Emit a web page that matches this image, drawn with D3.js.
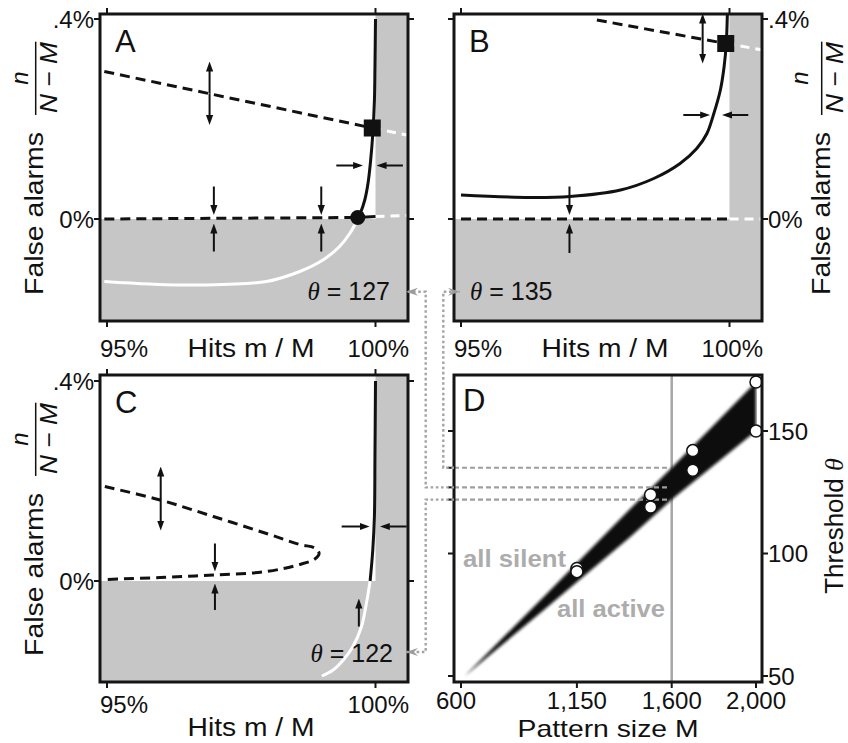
<!DOCTYPE html>
<html>
<head>
<meta charset="utf-8">
<script src="https://cdn.jsdelivr.net/npm/d3@7"></script>
<style>
  body { margin: 0; background: #fff; }
  text { font-family: "Liberation Sans", Arial, Helvetica, sans-serif; fill: #111; }
</style>
</head>
<body>
<svg id="fig" width="848" height="743"></svg>
<script>
// ---------------- data ----------------
// hits m/M in %, false alarms n/(N-M) in %
const hitTicks = [95, 100];
const hitTickLabels = ["95%", "100%"];
const faTicks = [0, 0.4];
const faTickLabels = ["0%", ".4%"];

// Panel A, theta = 127
const thetaA = 127;
const curveA_black = [[100.0, 0.40], [99.99, 0.305], [99.98, 0.238], [99.95, 0.171], [99.91, 0.118],
  [99.86, 0.071], [99.80, 0.038], [99.72, 0.012], [99.67, 0.0]];
const curveA_white = [[99.67, 0.0], [99.52, -0.029], [99.33, -0.055], [99.02, -0.082], [98.59, -0.105],
  [97.97, -0.125], [96.73, -0.132], [95.8, -0.130], [94.95, -0.125]];
const dashTopA = [[94.95, 0.295], [99.94, 0.182]];
const dashTopA_gray = [[99.94, 0.182], [100.58, 0.168]];
const dashZeroA = [[94.95, 0.0], [99.67, 0.003]];
const solidZeroA = [[99.67, 0.003], [100.0, 0.005]];
const dashZeroA_gray = [[100.0, 0.005], [100.58, 0.007]];
const squareA = [99.94, 0.182];
const dotA = [99.67, 0.003];
const arrowsA = [
  [96.91, 0.251, 96.91, 0.315], [96.91, 0.251, 96.91, 0.188],
  [99.27, 0.107, 99.77, 0.107], [100.51, 0.107, 100.02, 0.107],
  [96.99, 0.065, 96.99, 0.008], [96.99, -0.065, 96.99, -0.009],
  [98.99, 0.065, 98.99, 0.008], [98.99, -0.065, 98.99, -0.009]
];

// Panel B, theta = 135
const thetaB = 135;
const curveB_black = [[95.0, 0.048], [96.29, 0.043], [97.03, 0.045], [97.97, 0.058], [98.59, 0.081],
  [99.08, 0.111], [99.39, 0.141], [99.58, 0.171], [99.70, 0.208], [99.83, 0.258], [99.90, 0.305],
  [99.94, 0.351], [99.96, 0.41]];
const dashTopB = [[97.53, 0.398], [99.93, 0.351]];
const dashTopB_gray = [[99.93, 0.351], [100.62, 0.338]];
const dashZeroB = [[95.0, 0.0], [100.0, 0.0]];
const dashZeroB_gray = [[100.0, 0.0], [100.62, 0.0]];
const squareB = [99.93, 0.351];
const arrowsB = [
  [99.5, 0.36, 99.5, 0.411], [99.5, 0.36, 99.5, 0.311],
  [99.14, 0.208, 99.64, 0.208], [100.35, 0.208, 99.86, 0.208],
  [97.02, 0.065, 97.02, 0.008], [97.02, -0.068, 97.02, -0.009]
];

// Panel C, theta = 122
const thetaC = 122;
const dashC = [[94.96, 0.189], [95.99, 0.162], [96.98, 0.129], [97.97, 0.095], [98.59, 0.073],
  [98.87, 0.066], [98.95, 0.055], [98.87, 0.044], [98.59, 0.033], [97.97, 0.019], [96.98, 0.012],
  [95.99, 0.007], [94.96, 0.003]];
const curveC_black = [[100.0, 0.40], [99.99, 0.25], [99.98, 0.13], [99.95, 0.063], [99.90, 0.0]];
const curveC_white = [[99.90, 0.0], [99.83, -0.045], [99.74, -0.091], [99.58, -0.131], [99.40, -0.158],
  [99.21, -0.178], [99.0, -0.19]];
const arrowsC = [
  [96.0, 0.163, 96.0, 0.229], [96.0, 0.163, 96.0, 0.101],
  [99.37, 0.109, 99.89, 0.109], [100.58, 0.109, 100.08, 0.109],
  [97.01, 0.075, 97.01, 0.019], [97.01, -0.058, 97.01, -0.005],
  [99.69, -0.091, 99.69, -0.035]
];

// Panel D: threshold vs pattern size
const sizeTicks = [600, 1150, 1600, 2000];
const sizeTickLabels = ["600", "1,150", "1,600", "2,000"];
const thetaTicks = [50, 100, 150];
const wedgeM = [618, 1000, 1400, 1600, 1800, 2000];
const wedgeUpper = [50, 83, 118, 135, 152.5, 170];
const wedgeLower = [50, 77.5, 106.5, 122, 136, 150];
const simM = [1150, 1150, 1500, 1500, 1700, 1700, 2000, 2000];
const simTheta = [93.9, 92.6, 124, 119, 142, 134, 170, 150];
const refM = 1600;

// ---------------- drawing ----------------
const GRAY = "#c6c6c6";
const svg = d3.select("#fig");
const defs = svg.append("defs");

defs.append("marker")
    .attr("id", "head")
    .attr("viewBox", "0 -5 10 10")
    .attr("refX", 4).attr("refY", 0)
    .attr("markerWidth", 10).attr("markerHeight", 10)
    .attr("orient", "auto")
    .attr("markerUnits", "userSpaceOnUse")
  .append("path").attr("d", "M0,-3.6L10,0L0,3.6Z").attr("fill", "#111");

defs.append("marker")
    .attr("id", "grayhead")
    .attr("viewBox", "0 -5 12 10")
    .attr("refX", 12).attr("refY", 0)
    .attr("markerWidth", 12).attr("markerHeight", 10)
    .attr("orient", "auto")
    .attr("markerUnits", "userSpaceOnUse")
  .append("path").attr("d", "M0,-4L12,0L0,4L4,0Z").attr("fill", "#9c9c9c");

defs.append("filter").attr("id", "soft").attr("x", "-10%").attr("y", "-10%").attr("width", "120%").attr("height", "120%")
  .append("feGaussianBlur").attr("stdDeviation", 1.8);

// layout of the three hits panels
const hitPanels = [
  { key: "A", left: 100, top: 14, y0: 205, y4: 5, right: false, tickBase: 357, titleBase: 357,
    theta: thetaA, thetaX: 390, thetaY: 300, thetaAnchor: "end",
    black: [curveA_black], white: [curveA_white],
    dashed: [dashTopA, dashZeroA], solid: [solidZeroA], whiteDashed: [dashTopA_gray, dashZeroA_gray],
    squares: [squareA], dots: [dotA], arrows: arrowsA },
  { key: "B", left: 454, top: 14, y0: 205, y4: 5, right: true, tickBase: 357, titleBase: 357,
    theta: thetaB, thetaX: 470, thetaY: 300, thetaAnchor: "start",
    black: [curveB_black], white: [],
    dashed: [dashTopB, dashZeroB], solid: [], whiteDashed: [dashTopB_gray, dashZeroB_gray],
    squares: [squareB], dots: [], arrows: arrowsB },
  { key: "C", left: 100, top: 375, y0: 206, y4: 6, right: false, tickBase: 713, titleBase: 736,
    theta: thetaC, thetaX: 393, thetaY: 662, thetaAnchor: "end",
    black: [curveC_black], white: [curveC_white],
    dashed: [dashC], solid: [], whiteDashed: [],
    squares: [], dots: [], arrows: arrowsC }
];
const BOXW = 308, BOXH = 307;

function drawArrows(g, list, x, y) {
  list.forEach(a => {
    const x1 = x(a[0]), y1 = y(a[1]), x2 = x(a[2]), y2 = y(a[3]);
    const len = Math.hypot(x2 - x1, y2 - y1) || 1;
    const ux = (x2 - x1) / len, uy = (y2 - y1) / len;
    g.append("line")
      .attr("x1", x1).attr("y1", y1)
      .attr("x2", x2 - ux * 6).attr("y2", y2 - uy * 6)
      .attr("stroke", "#111").attr("stroke-width", 2)
      .attr("marker-end", "url(#head)");
  });
}

hitPanels.forEach(p => {
  const g = svg.append("g").attr("class", "panel" + p.key);
  const x = d3.scaleLinear().domain([95, 100]).range([p.left + 7, p.left + 275.5]);
  const y = d3.scaleLinear().domain([0, 0.4]).range([p.top + p.y0, p.top + p.y4]);
  const line = d3.line().x(d => x(d[0])).y(d => y(d[1])).curve(d3.curveCatmullRom.alpha(0.5));

  defs.append("clipPath").attr("id", "clip" + p.key)
    .append("rect").attr("x", p.left).attr("y", p.top).attr("width", BOXW).attr("height", BOXH);
  const inner = g.append("g").attr("clip-path", `url(#clip${p.key})`);

  // shaded (forbidden) regions
  inner.append("rect").attr("x", x(100)).attr("y", p.top)
    .attr("width", p.left + BOXW - x(100)).attr("height", BOXH).attr("fill", GRAY);
  inner.append("rect").attr("x", p.left).attr("y", y(0))
    .attr("width", BOXW).attr("height", p.top + BOXH - y(0)).attr("fill", GRAY);

  p.whiteDashed.forEach(s => inner.append("path").datum(s).attr("d", line)
    .attr("fill", "none").attr("stroke", "#fff").attr("stroke-width", 3).attr("stroke-dasharray", "9,6"));
  p.dashed.forEach(s => inner.append("path").datum(s).attr("d", line)
    .attr("fill", "none").attr("stroke", "#111").attr("stroke-width", 3).attr("stroke-dasharray", "10,6"));
  p.solid.forEach(s => inner.append("path").datum(s).attr("d", line)
    .attr("fill", "none").attr("stroke", "#111").attr("stroke-width", 3));
  p.white.forEach(s => inner.append("path").datum(s).attr("d", line)
    .attr("fill", "none").attr("stroke", "#fff").attr("stroke-width", 3));
  p.black.forEach(s => inner.append("path").datum(s).attr("d", line)
    .attr("fill", "none").attr("stroke", "#111").attr("stroke-width", 3));

  drawArrows(inner, p.arrows, x, y);

  inner.selectAll("rect.sq").data(p.squares).join("rect").attr("class", "sq")
    .attr("x", d => x(d[0]) - 8.5).attr("y", d => y(d[1]) - 8.5)
    .attr("width", 17).attr("height", 17).attr("fill", "#111");
  inner.selectAll("circle.dot").data(p.dots).join("circle").attr("class", "dot")
    .attr("cx", d => x(d[0])).attr("cy", d => y(d[1])).attr("r", 7.5).attr("fill", "#111");

  // theta label
  const t = g.append("text").attr("x", p.thetaX).attr("y", p.thetaY)
    .attr("text-anchor", p.thetaAnchor).attr("font-size", 25);
  t.append("tspan").attr("font-family", "'Liberation Serif', 'Times New Roman', serif")
    .attr("font-style", "italic").text("θ");
  t.append("tspan").text(" = " + p.theta);

  // frame
  g.append("rect").attr("x", p.left).attr("y", p.top).attr("width", BOXW).attr("height", BOXH)
    .attr("fill", "none").attr("stroke", "#151515").attr("stroke-width", 3);

  // ticks on all four sides
  hitTicks.forEach(v => {
    g.append("line").attr("x1", x(v)).attr("x2", x(v)).attr("y1", p.top + BOXH).attr("y2", p.top + BOXH + 6)
      .attr("stroke", "#151515").attr("stroke-width", 2);
    g.append("line").attr("x1", x(v)).attr("x2", x(v)).attr("y1", p.top).attr("y2", p.top - 6)
      .attr("stroke", "#151515").attr("stroke-width", 2);
  });
  faTicks.forEach(v => {
    g.append("line").attr("x1", p.left).attr("x2", p.left - 6).attr("y1", y(v)).attr("y2", y(v))
      .attr("stroke", "#151515").attr("stroke-width", 2);
    g.append("line").attr("x1", p.left + BOXW).attr("x2", p.left + BOXW + 6).attr("y1", y(v)).attr("y2", y(v))
      .attr("stroke", "#151515").attr("stroke-width", 2);
  });

  // tick labels
  g.append("text").attr("x", p.left).attr("y", p.tickBase).attr("font-size", 24).text(hitTickLabels[0]);
  g.append("text").attr("x", p.left + BOXW + 1).attr("y", p.tickBase).attr("text-anchor", "end")
    .attr("font-size", 24).text(hitTickLabels[1]);
  faTicks.forEach((v, i) => {
    g.append("text")
      .attr("x", p.right ? p.left + BOXW + 6 : p.left - 6)
      .attr("y", y(v)).attr("dy", "0.36em")
      .attr("text-anchor", p.right ? "start" : "end")
      .attr("font-size", 24).text(faTickLabels[i]);
  });

  // x title
  g.append("text").attr("x", p.left + BOXW / 2 - 3).attr("y", p.titleBase)
    .attr("text-anchor", "middle").attr("font-size", 26).attr("textLength", 127)
    .attr("lengthAdjust", "spacingAndGlyphs").text("Hits m / M");

  // y title with fraction n / (N - M)
  const yl = p.right
    ? { fa: 830, n: 808.3, bar: 821.7, nm: 843.3 }
    : { fa: 43, n: 28.3, bar: 35.7, nm: 56.7 };
  g.append("text").attr("transform", `translate(${yl.fa},${p.top + 199.5}) rotate(-90)`)
    .attr("text-anchor", "middle").attr("font-size", 26).attr("textLength", 163)
    .attr("lengthAdjust", "spacingAndGlyphs").text("False alarms");
  g.append("text").attr("transform", `translate(${yl.n},${p.top + 64}) rotate(-90)`)
    .attr("text-anchor", "middle").attr("font-size", 24).attr("font-style", "italic").text("n");
  g.append("line").attr("x1", yl.bar).attr("x2", yl.bar).attr("y1", p.top + 27.7).attr("y2", p.top + 101)
    .attr("stroke", "#111").attr("stroke-width", 1.5);
  g.append("text").attr("transform", `translate(${yl.nm},${p.top + 63.5}) rotate(-90)`)
    .attr("text-anchor", "middle").attr("font-size", 24).attr("font-style", "italic")
    .attr("textLength", 71).attr("lengthAdjust", "spacingAndGlyphs").text("N − M");

  // panel letter
  g.append("text").attr("x", p.left + 15).attr("y", p.top + 38).attr("font-size", 31).text(p.key);
});

// ---------------- panel D ----------------
const D = { left: 454, top: 375 };
const gD = svg.append("g").attr("class", "panelD");
const xD = d3.scaleLinear().domain([600, 2000]).range([D.left + 7, D.left + 302]);
const yD = d3.scaleLinear().domain([50, 150]).range([D.top + 301, D.top + 56]);

defs.append("clipPath").attr("id", "clipD")
  .append("rect").attr("x", D.left).attr("y", D.top).attr("width", BOXW).attr("height", BOXH);
const innerD = gD.append("g").attr("clip-path", "url(#clipD)");

innerD.append("line").attr("x1", xD(refM)).attr("x2", xD(refM)).attr("y1", D.top).attr("y2", D.top + BOXH)
  .attr("stroke", "#a6a6a6").attr("stroke-width", 2.5);

const wedge = wedgeM.map((m, i) => ({ m, lo: wedgeLower[i], hi: wedgeUpper[i] }));
innerD.append("path").datum(wedge)
  .attr("d", d3.area().x(d => xD(d.m)).y0(d => yD(d.lo)).y1(d => yD(d.hi)))
  .attr("fill", "#0e0e0e").attr("filter", "url(#soft)");

// white gap between the wedge end and the frame
innerD.append("line").attr("x1", xD(2000) + 3).attr("x2", xD(2000) + 3)
  .attr("y1", yD(simTheta[6])).attr("y2", yD(simTheta[7]))
  .attr("stroke", "#fff").attr("stroke-width", 4);

// dashed theta lines from panels A, B, C
const thetaMarks = [thetaB, thetaA, thetaC];
innerD.selectAll("line.tm").data(thetaMarks).join("line").attr("class", "tm")
  .attr("x1", D.left).attr("x2", xD(refM) - 2)
  .attr("y1", d => yD(d)).attr("y2", d => yD(d))
  .attr("stroke", "#9e9e9e").attr("stroke-width", 2.2).attr("stroke-dasharray", "5,3");

innerD.selectAll("text.reg").data([["all silent", 463, 567, 103], ["all active", 557, 617, 108]])
  .join("text").attr("class", "reg")
  .attr("x", d => d[1]).attr("y", d => d[2]).attr("font-size", 24).attr("font-weight", "bold")
  .attr("textLength", d => d[3]).attr("lengthAdjust", "spacingAndGlyphs")
  .style("fill", "#acacac").text(d => d[0]);

innerD.selectAll("circle.sim").data(simM.map((m, i) => [m, simTheta[i]])).join("circle").attr("class", "sim")
  .attr("cx", d => xD(d[0])).attr("cy", d => yD(d[1])).attr("r", 6)
  .attr("fill", "#fff").attr("stroke", "#111").attr("stroke-width", 1.5);

gD.append("rect").attr("x", D.left).attr("y", D.top).attr("width", BOXW).attr("height", BOXH)
  .attr("fill", "none").attr("stroke", "#151515").attr("stroke-width", 3);

sizeTicks.forEach((v, i) => {
  gD.append("line").attr("x1", xD(v)).attr("x2", xD(v)).attr("y1", D.top + BOXH).attr("y2", D.top + BOXH + 6)
    .attr("stroke", "#151515").attr("stroke-width", 2);
  gD.append("text").attr("x", xD(v) - (i === 0 ? 5 : 0)).attr("y", 709).attr("text-anchor", "middle")
    .attr("font-size", 24).text(sizeTickLabels[i]);
});
thetaTicks.concat(thetaMarks).forEach(v => {
  gD.append("line").attr("x1", D.left).attr("x2", D.left - 6).attr("y1", yD(v)).attr("y2", yD(v))
    .attr("stroke", "#151515").attr("stroke-width", 2);
});
thetaTicks.forEach(v => {
  gD.append("line").attr("x1", D.left + BOXW).attr("x2", D.left + BOXW + 6).attr("y1", yD(v)).attr("y2", yD(v))
    .attr("stroke", "#151515").attr("stroke-width", 2);
  gD.append("text").attr("x", D.left + BOXW + 6).attr("y", yD(v)).attr("dy", "0.36em")
    .attr("font-size", 24).text(v);
});

gD.append("text").attr("x", 608).attr("y", 736.5).attr("text-anchor", "middle").attr("font-size", 24)
  .attr("textLength", 181).attr("lengthAdjust", "spacingAndGlyphs").text("Pattern size M");
const th = gD.append("text").attr("transform", `translate(843,526) rotate(-90)`)
  .attr("text-anchor", "middle").attr("font-size", 26);
th.append("tspan").text("Threshold ");
th.append("tspan").attr("font-family", "'Liberation Serif', 'Times New Roman', serif")
  .attr("font-style", "italic").text("θ");

gD.append("text").attr("x", D.left + 9).attr("y", D.top + 36).attr("font-size", 31).text("D");

// ---------------- dotted connectors (theta labels -> panel D) ----------------
const connectors = [
  { theta: thetaA, gx: 425.7, ly: 291.7, tipX: 406 },
  { theta: thetaC, gx: 425.7, ly: 652, tipX: 406 },
  { theta: thetaB, gx: 443.3, ly: 291.7, tipX: 460 }
];
connectors.forEach(c => {
  svg.append("path")
    .attr("d", `M${D.left},${yD(c.theta)}H${c.gx}V${c.ly}H${c.tipX}`)
    .attr("fill", "none").attr("stroke", "#a4a4a4").attr("stroke-width", 2.4)
    .attr("stroke-dasharray", "2.6,2.6").attr("marker-end", "url(#grayhead)");
});
</script>
</body>
</html>
